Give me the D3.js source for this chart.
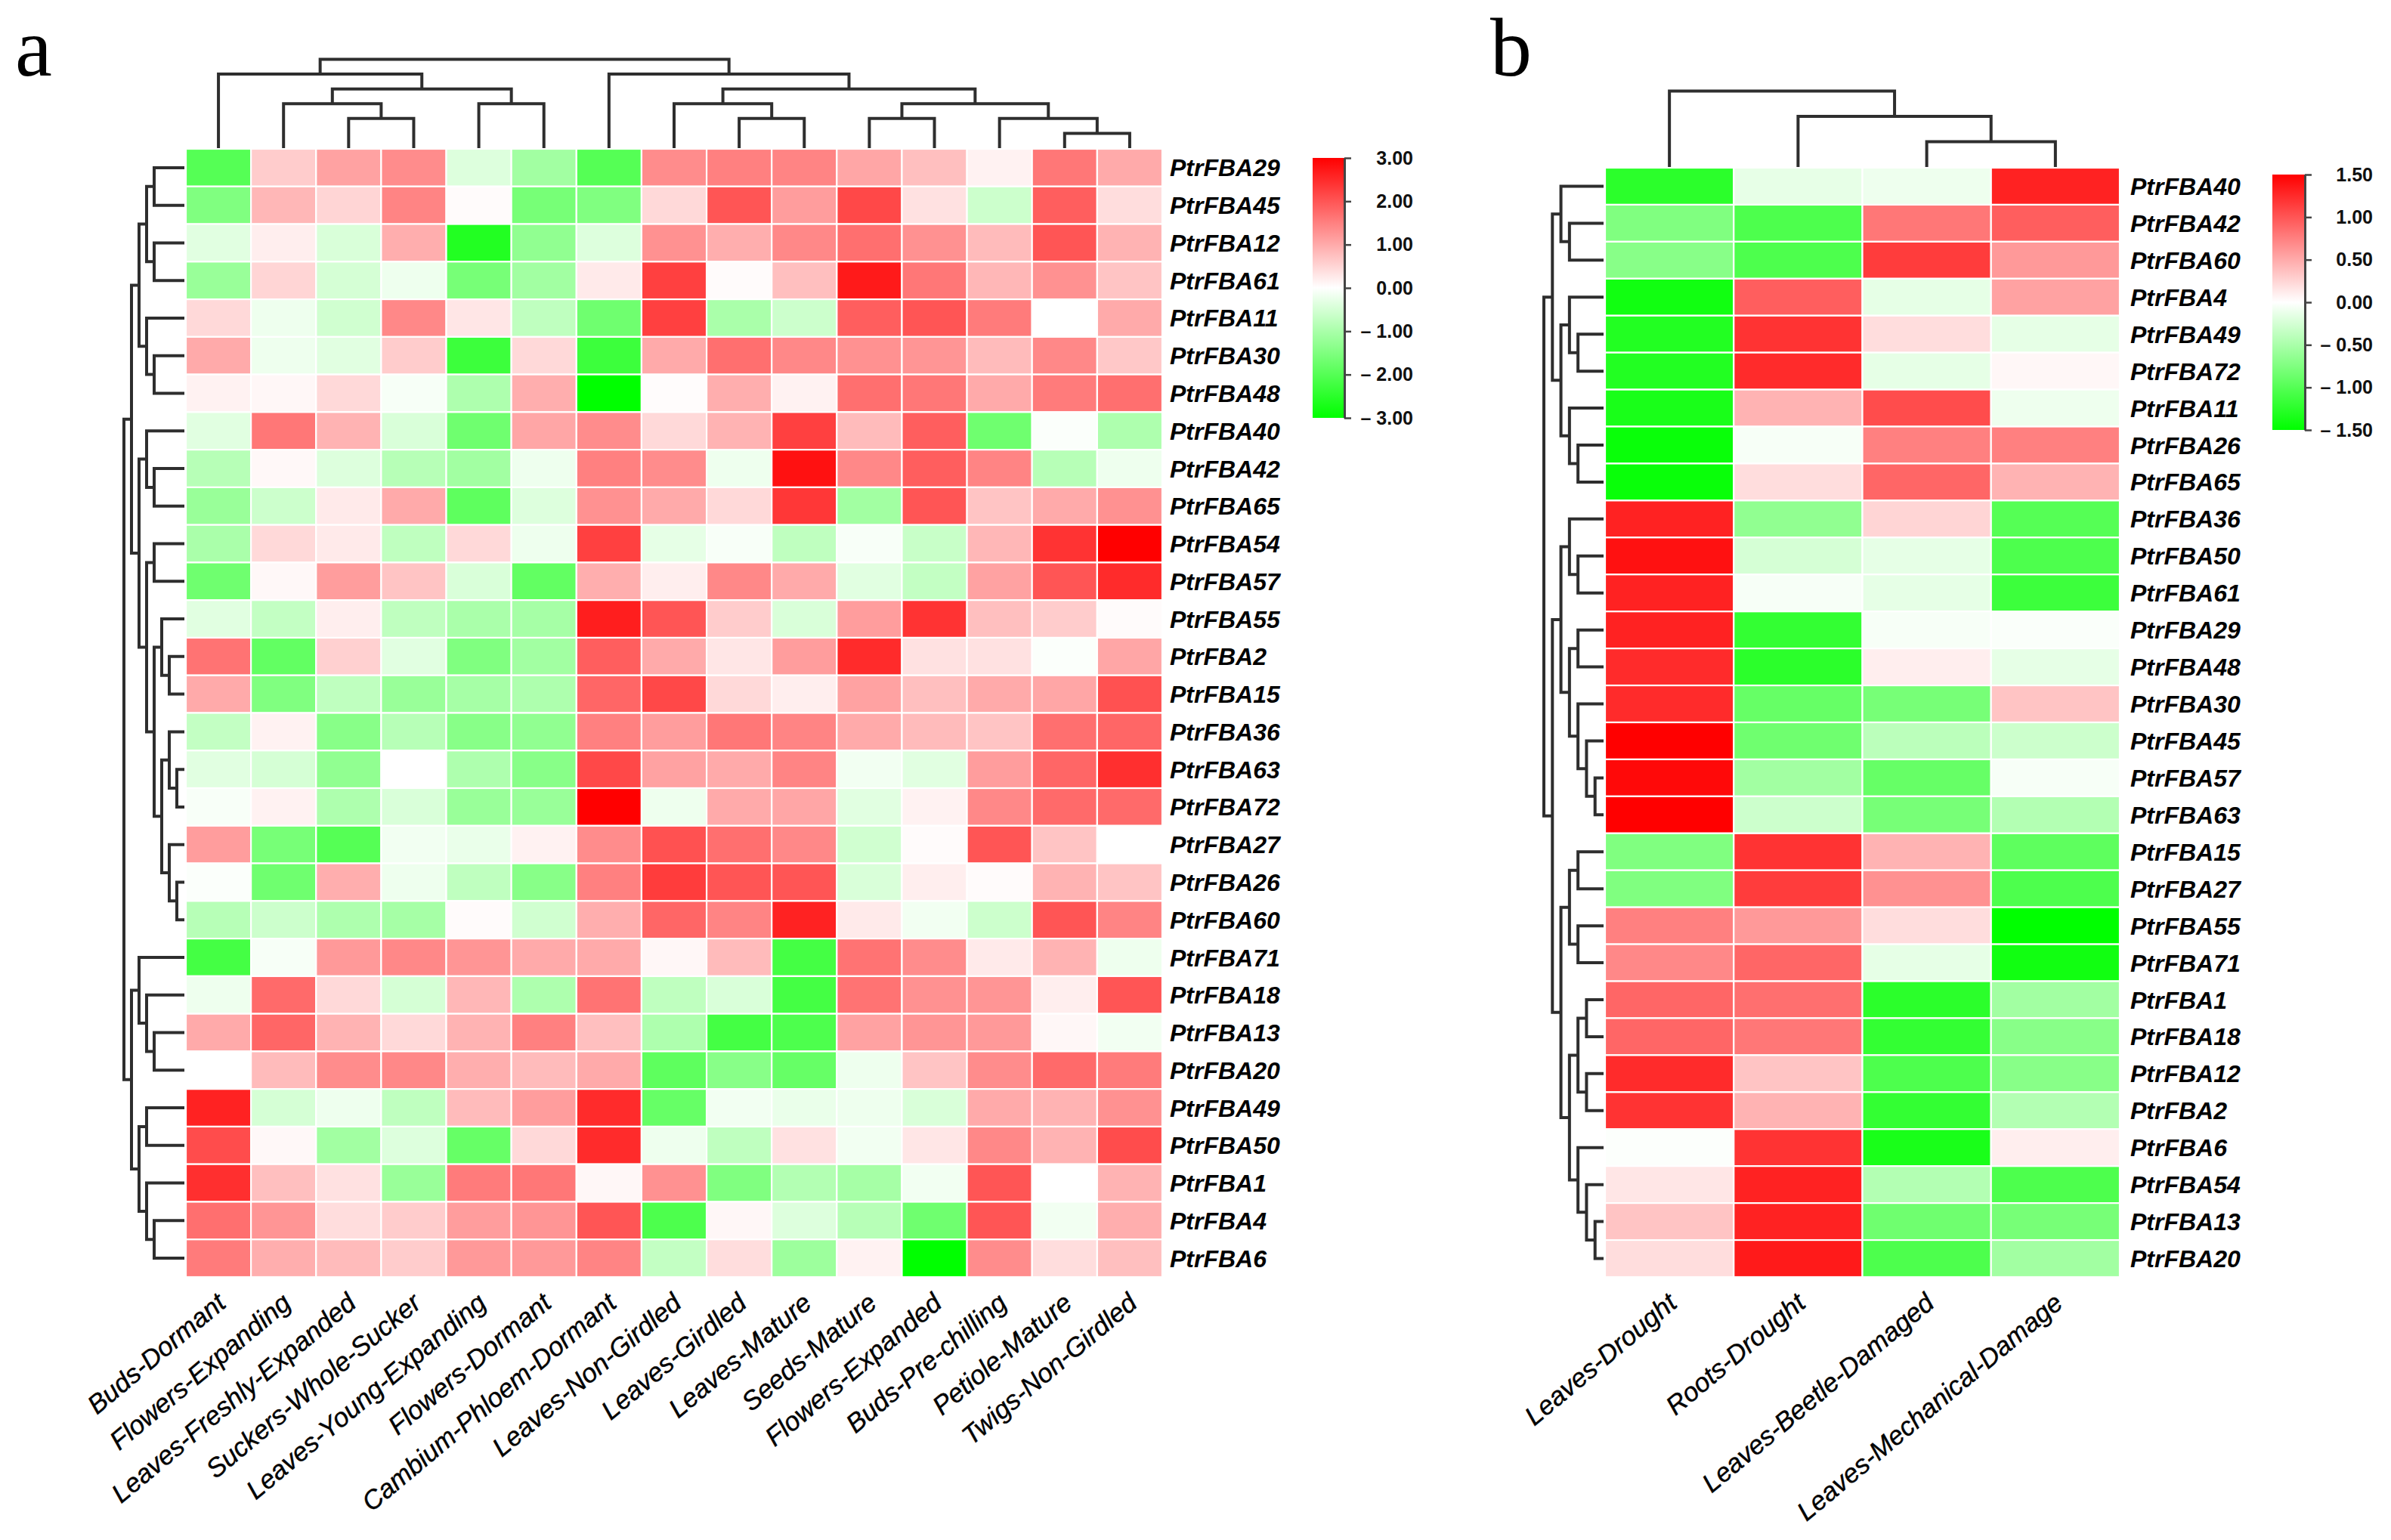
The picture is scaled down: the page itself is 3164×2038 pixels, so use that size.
<!DOCTYPE html>
<html><head><meta charset="utf-8">
<script src="https://cdn.jsdelivr.net/npm/d3@7"></script>
<style>body{margin:0;background:#fff}</style>
</head><body>
<svg id="chart" width="3164" height="2038"></svg>
<script>
// ---------------- Panel a data ----------------
const colsA = ["Buds-Dormant","Flowers-Expanding","Leaves-Freshly-Expanded","Suckers-Whole-Sucker",
  "Leaves-Young-Expanding","Flowers-Dormant","Cambium-Phloem-Dormant","Leaves-Non-Girdled",
  "Leaves-Girdled","Leaves-Mature","Seeds-Mature","Flowers-Expanded","Buds-Pre-chilling",
  "Petiole-Mature","Twigs-Non-Girdled"];
const rowsA = ["PtrFBA29","PtrFBA45","PtrFBA12","PtrFBA61","PtrFBA11","PtrFBA30","PtrFBA48",
  "PtrFBA40","PtrFBA42","PtrFBA65","PtrFBA54","PtrFBA57","PtrFBA55","PtrFBA2","PtrFBA15",
  "PtrFBA36","PtrFBA63","PtrFBA72","PtrFBA27","PtrFBA26","PtrFBA60","PtrFBA71","PtrFBA18",
  "PtrFBA13","PtrFBA20","PtrFBA49","PtrFBA50","PtrFBA1","PtrFBA4","PtrFBA6"];
const valuesA = [
  [-2.0, 0.6, 1.1, 1.35, -0.4, -1.1, -2.0, 1.35, 1.5, 1.45, 1.05, 0.75, 0.15, 1.6, 1.0],
  [-1.5, 0.85, 0.5, 1.45, 0.05, -1.6, -1.5, 0.45, 2.0, 1.15, 2.15, 0.35, -0.6, 1.9, 0.4],
  [-0.35, 0.2, -0.45, 0.95, -2.6, -1.3, -0.4, 1.3, 0.95, 1.4, 1.7, 1.3, 0.8, 2.0, 0.9],
  [-1.2, 0.5, -0.5, -0.2, -1.6, -1.1, 0.25, 2.25, 0.05, 0.75, 2.7, 1.6, 0.85, 1.3, 0.7],
  [0.45, -0.2, -0.55, 1.4, 0.3, -0.75, -1.7, 2.25, -1.0, -0.6, 1.9, 2.0, 1.55, 0, 1.0],
  [1.0, -0.2, -0.35, 0.6, -2.3, 0.45, -2.3, 1.0, 1.7, 1.4, 1.3, 1.25, 0.8, 1.4, 0.65],
  [0.15, 0.1, 0.45, -0.1, -0.95, 0.95, -3.0, 0.03, 0.95, 0.15, 1.7, 1.6, 1.0, 1.55, 1.7],
  [-0.35, 1.6, 0.9, -0.45, -1.7, 1.05, 1.35, 0.45, 0.9, 2.25, 0.8, 1.9, -1.7, -0.05, -0.95],
  [-0.85, 0.08, -0.4, -0.85, -1.1, -0.2, 1.5, 1.35, -0.2, 2.8, 1.4, 1.9, 1.45, -0.85, -0.2],
  [-1.2, -0.6, 0.25, 1.0, -1.9, -0.4, 1.3, 1.0, 0.45, 2.35, -1.1, 2.0, 0.7, 1.0, 1.3],
  [-1.0, 0.45, 0.25, -0.75, 0.45, -0.2, 2.25, -0.3, -0.08, -0.75, -0.08, -0.65, 0.85, 2.4, 3.0],
  [-1.7, 0.08, 1.15, 0.7, -0.45, -1.85, 0.95, 0.2, 1.4, 1.0, -0.35, -0.7, 1.1, 2.0, 2.5],
  [-0.35, -0.7, 0.2, -0.75, -1.0, -1.05, 2.65, 2.0, 0.6, -0.45, 1.15, 2.4, 0.75, 0.6, 0.05],
  [1.65, -1.85, 0.55, -0.35, -1.5, -1.1, 1.9, 1.0, 0.3, 1.15, 2.5, 0.35, 0.35, -0.05, 1.05],
  [1.0, -1.5, -0.75, -1.2, -1.05, -0.95, 1.8, 2.15, 0.45, 0.2, 1.1, 0.75, 1.0, 1.05, 2.05],
  [-0.7, 0.15, -1.4, -0.85, -1.4, -1.3, 1.5, 1.15, 1.6, 1.45, 1.0, 0.8, 0.7, 1.7, 1.8],
  [-0.35, -0.5, -1.3, 0, -0.95, -1.4, 2.15, 1.1, 1.0, 1.45, -0.15, -0.35, 1.15, 1.8, 2.45],
  [-0.08, 0.15, -0.95, -0.45, -1.2, -1.2, 3.0, -0.2, 1.0, 1.05, -0.35, 0.15, 1.4, 1.75, 1.75],
  [1.15, -1.6, -2.0, -0.15, -0.25, 0.15, 1.35, 2.05, 1.7, 1.4, -0.55, 0.05, 2.0, 0.7, 0],
  [-0.05, -1.7, 0.95, -0.2, -0.75, -1.4, 1.5, 2.3, 2.0, 2.0, -0.45, 0.2, 0.05, 0.9, 0.7],
  [-0.85, -0.6, -0.95, -1.05, 0.05, -0.55, 0.95, 1.8, 1.45, 2.6, 0.25, -0.15, -0.6, 2.0, 1.45],
  [-2.2, -0.1, 1.2, 1.4, 1.25, 1.0, 1.0, 0.1, 0.8, -2.2, 1.65, 1.35, 0.25, 0.9, -0.2],
  [-0.2, 1.75, 0.45, -0.5, 0.85, -0.95, 1.65, -0.75, -0.45, -2.2, 1.65, 1.3, 1.25, 0.2, 2.0],
  [1.0, 1.8, 0.9, 0.45, 0.9, 1.5, 0.75, -0.95, -2.2, -2.1, 1.1, 1.25, 1.2, 0.1, -0.15],
  [0, 0.8, 1.35, 1.4, 0.95, 0.8, 1.0, -1.9, -1.4, -1.8, -0.2, 0.7, 1.35, 1.75, 1.55],
  [2.6, -0.5, -0.2, -0.75, 0.8, 1.15, 2.5, -1.8, -0.15, -0.25, -0.2, -0.45, 1.0, 0.9, 1.3],
  [2.1, 0.08, -1.1, -0.4, -1.8, 0.45, 2.5, -0.2, -0.75, 0.35, -0.15, 0.3, 1.4, 0.9, 2.1],
  [2.45, 0.75, 0.35, -1.2, 1.55, 1.6, 0.1, 1.3, -1.5, -0.9, -1.05, -0.15, 2.0, 0, 0.9],
  [1.7, 1.25, 0.4, 0.6, 1.15, 1.25, 2.0, -2.1, 0.1, -0.4, -0.85, -1.7, 2.0, -0.15, 0.95],
  [1.55, 0.95, 0.8, 0.6, 1.2, 1.2, 1.45, -0.7, 0.4, -1.15, 0.15, -3.0, 1.35, 0.4, 0.75]
];
const colTreeA = [
  ["Buds-Dormant", [["Flowers-Expanding", ["Leaves-Freshly-Expanded","Suckers-Whole-Sucker"]],
                    ["Leaves-Young-Expanding","Flowers-Dormant"]]],
  ["Cambium-Phloem-Dormant", [["Leaves-Non-Girdled", ["Leaves-Girdled","Leaves-Mature"]],
                              [["Seeds-Mature","Flowers-Expanded"],
                               ["Buds-Pre-chilling", ["Petiole-Mature","Twigs-Non-Girdled"]]]]]
];
const rowTreeA = [
  [
    [[["PtrFBA29","PtrFBA45"],["PtrFBA12","PtrFBA61"]], ["PtrFBA11",["PtrFBA30","PtrFBA48"]]],
    [["PtrFBA40",["PtrFBA42","PtrFBA65"]],
     [["PtrFBA54","PtrFBA57"],
      [["PtrFBA55",["PtrFBA2","PtrFBA15"]],
       [["PtrFBA36",["PtrFBA63","PtrFBA72"]],["PtrFBA27",["PtrFBA26","PtrFBA60"]]]]]]
  ],
  [
    ["PtrFBA71",["PtrFBA18",["PtrFBA13","PtrFBA20"]]],
    [["PtrFBA49","PtrFBA50"],["PtrFBA1",["PtrFBA4","PtrFBA6"]]]
  ]
];
const legendTicksA = [3, 2, 1, 0, -1, -2, -3];

// ---------------- Panel b data ----------------
const colsB = ["Leaves-Drought","Roots-Drought","Leaves-Beetle-Damaged","Leaves-Mechanical-Damage"];
const rowsB = ["PtrFBA40","PtrFBA42","PtrFBA60","PtrFBA4","PtrFBA49","PtrFBA72","PtrFBA11",
  "PtrFBA26","PtrFBA65","PtrFBA36","PtrFBA50","PtrFBA61","PtrFBA29","PtrFBA48","PtrFBA30",
  "PtrFBA45","PtrFBA57","PtrFBA63","PtrFBA15","PtrFBA27","PtrFBA55","PtrFBA71","PtrFBA1",
  "PtrFBA18","PtrFBA12","PtrFBA2","PtrFBA6","PtrFBA54","PtrFBA13","PtrFBA20"];
const valuesB = [
  [-1.25, -0.14, -0.1, 1.3],
  [-0.75, -1.05, 0.8, 0.95],
  [-0.7, -1.05, 1.15, 0.6],
  [-1.4, 0.95, -0.15, 0.55],
  [-1.3, 1.2, 0.2, -0.15],
  [-1.3, 1.25, -0.15, 0.05],
  [-1.35, 0.45, 1.05, -0.1],
  [-1.45, -0.05, 0.75, 0.75],
  [-1.45, 0.2, 0.9, 0.45],
  [1.3, -0.65, 0.25, -1.0],
  [1.4, -0.25, -0.15, -1.05],
  [1.3, -0.05, -0.15, -1.15],
  [1.3, -1.2, -0.05, -0.03],
  [1.25, -1.25, 0.1, -0.15],
  [1.25, -0.9, -0.8, 0.35],
  [1.5, -0.85, -0.4, -0.3],
  [1.45, -0.55, -0.9, -0.05],
  [1.5, -0.3, -0.8, -0.45],
  [-0.75, 1.2, 0.45, -0.95],
  [-0.75, 1.15, 0.65, -1.05],
  [0.75, 0.6, 0.2, -1.5],
  [0.7, 0.9, -0.15, -1.4],
  [0.9, 0.85, -1.25, -0.55],
  [0.9, 0.8, -1.2, -0.7],
  [1.25, 0.35, -1.05, -0.7],
  [1.2, 0.45, -1.2, -0.45],
  [-0.02, 1.2, -1.35, 0.1],
  [0.15, 1.3, -0.45, -1.05],
  [0.35, 1.3, -0.85, -0.8],
  [0.2, 1.35, -1.05, -0.55]
];
const colTreeB = ["Leaves-Drought", ["Roots-Drought", ["Leaves-Beetle-Damaged","Leaves-Mechanical-Damage"]]];
const rowTreeB = [
  [["PtrFBA40",["PtrFBA42","PtrFBA60"]],
   [["PtrFBA4",["PtrFBA49","PtrFBA72"]],["PtrFBA11",["PtrFBA26","PtrFBA65"]]]],
  [
    [["PtrFBA36",["PtrFBA50","PtrFBA61"]],
     [["PtrFBA29","PtrFBA48"],["PtrFBA30",["PtrFBA45",["PtrFBA57","PtrFBA63"]]]]],
    [[["PtrFBA15","PtrFBA27"],["PtrFBA55","PtrFBA71"]],
     [[["PtrFBA1","PtrFBA18"],["PtrFBA12","PtrFBA2"]],["PtrFBA6",["PtrFBA54",["PtrFBA13","PtrFBA20"]]]]]
  ]
];
const legendTicksB = [1.5, 1, 0.5, 0, -0.5, -1, -1.5];

// ---------------- drawing ----------------
const svg = d3.select("#chart");
const FONT = "'Liberation Sans', Arial, Helvetica, sans-serif";
const LINE = "#2e2e2e";

function drawTree(g, tree, band, orient, rootPos, leafPos) {
  const root = d3.hierarchy(tree, d => Array.isArray(d) ? d : null);
  const maxDepth = d3.max(root.leaves(), d => d.depth);
  const dScale = d3.scaleLinear().domain([0, maxDepth]).range([rootPos, leafPos]);
  root.eachAfter(n => {
    n.p = n.children ? d3.mean(n.children, c => c.p) : band(n.data) + band.bandwidth() / 2;
    n.q = n.children ? dScale(n.depth) : dScale(maxDepth);
  });
  const pt = (p, q) => orient === "top" ? `${p},${q}` : `${q},${p}`;
  const paths = [];
  root.each(n => {
    if (!n.children) return;
    const [a, b] = n.children;
    paths.push(`M${pt(a.p, a.q)}L${pt(a.p, n.q)}L${pt(b.p, n.q)}L${pt(b.p, b.q)}`);
  });
  g.selectAll(null).data(paths).join("path")
    .attr("d", d => d).attr("fill", "none").attr("stroke", LINE)
    .attr("stroke-width", 4).attr("stroke-linejoin", "miter").attr("stroke-linecap", "butt");
}

function drawPanel(o) {
  const g = svg.append("g");
  const x = d3.scaleBand().domain(o.cols).range([o.x0, o.x1]);
  const y = d3.scaleBand().domain(o.rows).range([o.y0, o.y1]);
  const color = d3.scaleLinear().domain([-o.max, 0, o.max]).range(["#00ff00", "#ffffff", "#ff0000"]).clamp(true);

  const cells = [];
  o.values.forEach((row, i) => row.forEach((v, j) => cells.push({ r: o.rows[i], c: o.cols[j], v })));
  g.append("g").selectAll("rect").data(cells).join("rect")
    .attr("x", d => x(d.c)).attr("y", d => y(d.r))
    .attr("width", x.bandwidth()).attr("height", y.bandwidth())
    .attr("fill", d => color(d.v)).attr("stroke", "#fff").attr("stroke-width", 2.2);

  drawTree(g.append("g"), o.colTree, x, "top", o.colRoot, o.y0 - 1);
  drawTree(g.append("g"), o.rowTree, y, "left", o.rowRoot, o.x0 - 2);

  // row labels
  g.append("g").selectAll("text").data(o.rows).join("text")
    .attr("x", o.x1 + o.labelGap).attr("y", d => y(d) + y.bandwidth() / 2)
    .attr("dy", "0.36em")
    .attr("font-family", FONT).attr("font-size", 32).attr("font-weight", "bold").attr("font-style", "italic")
    .attr("fill", "#000").text(d => d);

  // column labels
  g.append("g").selectAll("text").data(o.cols).join("text")
    .attr("transform", d => `translate(${x(d) + x.bandwidth() / 2 + 12},${o.y1 + 38}) rotate(-40)`)
    .attr("text-anchor", "end")
    .attr("font-family", FONT).attr("font-size", 35).attr("font-style", "italic")
    .attr("stroke", "#000").attr("stroke-width", 0.4)
    .attr("fill", "#000").text(d => d);

  // legend
  const gradId = "grad" + o.id;
  const grad = svg.append("defs").append("linearGradient").attr("id", gradId)
    .attr("x1", 0).attr("y1", 0).attr("x2", 0).attr("y2", 1);
  d3.range(0, 1.0001, 0.05).forEach(t => {
    grad.append("stop").attr("offset", t).attr("stop-color", color(o.max - t * 2 * o.max));
  });
  const ls = d3.scaleLinear().domain([o.max, -o.max]).range([o.legY0, o.legY1]);
  g.append("rect").attr("x", o.legX).attr("y", o.legY0).attr("width", o.legW)
    .attr("height", o.legY1 - o.legY0).attr("fill", `url(#${gradId})`);
  const axis = d3.axisRight(ls).tickValues(o.ticks).tickSize(9).tickSizeOuter(0)
    .tickFormat(d => d < 0 ? "\u2013 " + Math.abs(d).toFixed(2) : d.toFixed(2));
  const ag = g.append("g").attr("transform", `translate(${o.legX + o.legW},0)`).call(axis);
  ag.select(".domain").attr("stroke", "#444").attr("stroke-width", 3);
  ag.selectAll(".tick line").attr("stroke", "#444").attr("stroke-width", 2.5);
  ag.selectAll(".tick text").attr("text-anchor", "end").attr("x", o.legLabelEnd - o.legX - o.legW)
    .attr("font-family", FONT).attr("font-size", 25).attr("font-weight", "bold").attr("fill", "#111");

  // panel letter
  svg.append("text").attr("x", o.letterX).attr("y", 100)
    .attr("font-family", "'Liberation Serif', 'Times New Roman', serif").attr("font-size", 110)
    .attr("fill", "#000").text(o.letter);
}

drawPanel({
  id: "A", letter: "a", letterX: 20,
  cols: colsA, rows: rowsA, values: valuesA, colTree: colTreeA, rowTree: rowTreeA,
  max: 3, ticks: legendTicksA,
  x0: 246, x1: 1538, y0: 197, y1: 1690,
  colRoot: 78.5, rowRoot: 164, labelGap: 10,
  legX: 1737, legW: 42, legY0: 209, legY1: 553, legLabelEnd: 1870
});

drawPanel({
  id: "B", letter: "b", letterX: 1972,
  cols: colsB, rows: rowsB, values: valuesB, colTree: colTreeB, rowTree: rowTreeB,
  max: 1.5, ticks: legendTicksB,
  x0: 2124, x1: 2805, y0: 222, y1: 1690,
  colRoot: 120.6, rowRoot: 2043, labelGap: 14,
  legX: 3007, legW: 43, legY0: 231, legY1: 569, legLabelEnd: 3140
});
</script>
</body></html>
